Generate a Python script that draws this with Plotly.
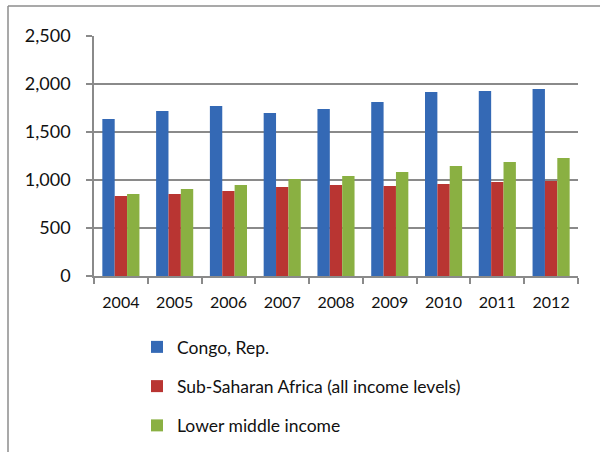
import plotly.graph_objects as go

years = ["2004", "2005", "2006", "2007", "2008", "2009", "2010", "2011", "2012"]
congo = [1635, 1719, 1771, 1698, 1740, 1812, 1917, 1927, 1948]
ssa = [833, 854, 885, 927, 948, 938, 958, 979, 990]
lmi = [854, 906, 948, 1010, 1042, 1083, 1146, 1188, 1229]

names = ["Congo, Rep.", "Sub-Saharan Africa (all income levels)", "Lower middle income"]
colors = ["#3469b5", "#b93532", "#8ab042"]

W, H = 600, 452
L, R, T, B = 94, 22, 36, 176
pw = W - L - R
ph = H - T - B

FONT = "Lato"

fig = go.Figure()
for i, (name, vals) in enumerate(zip(names, [congo, ssa, lmi])):
    fig.add_trace(go.Bar(
        x=years, y=vals, name=name,
        marker=dict(color=colors[i], line=dict(width=0)),
        legendgroup=f"g{i}",
    ))

# outer chart frame (top and left edges)
def px_x(v):
    return (v - L) / pw

def px_y(v):
    return 1 - (v - T) / ph

frame = dict(color="#8c8c8c", width=1.5)
fig.add_shape(type="line", xref="paper", yref="paper",
              x0=px_x(8), x1=px_x(600), y0=px_y(6), y1=px_y(6), line=frame)
fig.add_shape(type="line", xref="paper", yref="paper",
              x0=px_x(8), x1=px_x(8), y0=px_y(6), y1=px_y(452), line=frame)

fig.update_layout(
    width=W, height=H,
    margin=dict(l=L, r=R, t=T, b=B, pad=0, autoexpand=False),
    paper_bgcolor="white", plot_bgcolor="white",
    barmode="group", bargap=0.31, bargroupgap=0,
    font=dict(family=FONT, color="#111111"),
    legend=dict(
        x=px_x(137), y=px_y(329), xanchor="left", yanchor="top",
        font=dict(family=FONT, size=17.5, color="#111111"),
        tracegroupgap=13.5, traceorder="grouped",
        bgcolor="rgba(0,0,0,0)",
    ),
    xaxis=dict(
        type="category", showgrid=False,
        showline=True, linecolor="#8a8a8a", linewidth=1.5,
        ticks="outside", tickson="boundaries", ticklen=6,
        tickcolor="#8a8a8a", tickwidth=1.5,
        tickfont=dict(family=FONT, size=16, color="#111111"),
        ticklabelstandoff=11, tickangle=0, automargin=False,
    ),
    yaxis=dict(
        range=[0, 2500], dtick=500, tickformat=",d",
        showgrid=True, gridcolor="#8a8a8a", gridwidth=1.5,
        showline=True, linecolor="#8a8a8a", linewidth=1.5,
        ticks="outside", ticklen=6, tickcolor="#8a8a8a", tickwidth=1.5,
        zeroline=False, automargin=False,
        tickfont=dict(family=FONT, size=18, color="#111111"),
        ticklabelstandoff=12,
    ),
)

fig.write_html("out.html")
